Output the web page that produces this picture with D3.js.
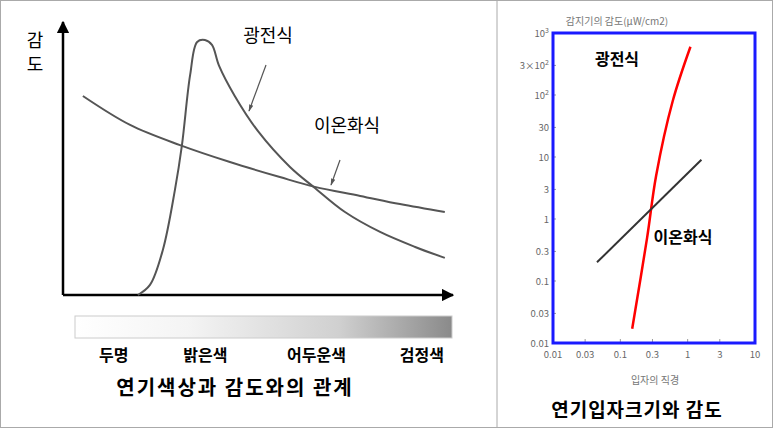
<!DOCTYPE html><html><head><meta charset="utf-8"><script src="https://cdn.jsdelivr.net/npm/d3@7"></script>
<style>body{margin:0;background:#fff}text{font-family:"Noto Sans CJK KR",sans-serif}</style></head><body>
<svg id="c" width="773" height="428"></svg>
<script>
const photoX=[1.92,2.23,2.56,2.87,3.05,3.26,3.44,3.64,3.82,4.0,4.4,5.0,5.82,6.46,7.23,8.13,9.03,9.79];
const photoY=[0,0.37,1.65,3.85,5.49,8.06,9.27,9.34,9.16,8.4,7.3,6.0,4.69,3.92,3.04,2.31,1.76,1.36];
const ionX=[0.51,1.72,3.0,4.28,5.56,6.46,7.62,8.64,9.79];
const ionY=[7.29,6.23,5.49,4.87,4.32,3.96,3.63,3.33,3.04];
const colorLabels=["두명","밝은색","어두운색","검정색"];
const colorPos=[1.3,3.65,6.5,9.2];
const redX=[0.15,0.25,0.34,0.6,1.1];
const redY=[0.017,0.5,5,80,600];
const blackX=[0.045,1.6];
const blackY=[0.2,9];
const yTicks=[0.01,0.03,0.1,0.3,1,3,10,30,100,300,1000];
const yTickLabels=["0.01","0.03","0.1","0.3","1","3","10","30","10|2","3×10|2","10|3"];
const xTicks=[0.01,0.03,0.1,0.3,1,3,10];
const xTickLabels=["0.01","0.03","0.1","0.3","1","3","10"];

const svg=d3.select("#c");
svg.append("rect").attr("x",0.5).attr("y",0.5).attr("width",772).attr("height",427).attr("fill","none").attr("stroke","#aaa");
svg.append("line").attr("x1",497).attr("x2",497).attr("y1",0).attr("y2",428).attr("stroke","#aaa");
const x=d3.scaleLinear().domain([0,10]).range([63,453]);
const y=d3.scaleLinear().domain([0,10]).range([295,22]);
const g=svg.append("g");
const defs=svg.append("defs");
defs.append("marker").attr("id","ah").attr("viewBox","0 0 10 10").attr("refX",9).attr("refY",5).attr("markerWidth",5).attr("markerHeight",5).attr("orient","auto-start-reverse").append("path").attr("d","M0,0L10,5L0,10z").attr("fill","#000");
g.append("line").attr("x1",x(0)).attr("x2",x(0)).attr("y1",y(0)).attr("y2",y(10)).attr("stroke","#000").attr("stroke-width",2.5).attr("marker-end","url(#ah)");
g.append("line").attr("x1",x(0)).attr("x2",x(10)).attr("y1",y(0)).attr("y2",y(0)).attr("stroke","#000").attr("stroke-width",2.5).attr("marker-end","url(#ah)");
const ln=d3.line().x(d=>x(d[0])).y(d=>y(d[1])).curve(d3.curveCatmullRom.alpha(0.5));
g.append("path").attr("d",ln(photoX.map((v,i)=>[v,photoY[i]]))).attr("fill","none").attr("stroke","#555").attr("stroke-width",2);
g.append("path").attr("d",ln(ionX.map((v,i)=>[v,ionY[i]]))).attr("fill","none").attr("stroke","#555").attr("stroke-width",2);
g.append("text").attr("x",35).attr("y",47).attr("text-anchor","middle").attr("font-size",18).text("감");
g.append("text").attr("x",35).attr("y",71).attr("text-anchor","middle").attr("font-size",18).text("도");
g.append("text").attr("x",268).attr("y",42).attr("text-anchor","middle").attr("font-size",18).text("광전식");
g.append("text").attr("x",347).attr("y",132).attr("text-anchor","middle").attr("font-size",18).text("이온화식");
defs.append("marker").attr("id","ah2").attr("viewBox","0 0 10 10").attr("refX",9).attr("refY",5).attr("markerWidth",6).attr("markerHeight",6).attr("orient","auto").append("path").attr("d","M0,2L10,5L0,8z").attr("fill","#555");
g.append("line").attr("x1",266).attr("y1",65).attr("x2",249).attr("y2",111).attr("stroke","#555").attr("stroke-width",1.2).attr("marker-end","url(#ah2)");
g.append("line").attr("x1",340).attr("y1",160).attr("x2",331).attr("y2",185).attr("stroke","#555").attr("stroke-width",1.2).attr("marker-end","url(#ah2)");
const gr=defs.append("linearGradient").attr("id","gr");
gr.append("stop").attr("offset","0").attr("stop-color","#fff");
gr.append("stop").attr("offset","0.3").attr("stop-color","#f4f4f4");
gr.append("stop").attr("offset","0.7").attr("stop-color","#d0d0d0");
gr.append("stop").attr("offset","1").attr("stop-color","#8a8a8a");
g.append("rect").attr("x",75).attr("y",316).attr("width",377).attr("height",22).attr("fill","url(#gr)").attr("stroke","#ccc");
g.selectAll(".cl").data(colorLabels).join("text").attr("x",(d,i)=>x(colorPos[i])).attr("y",361).attr("text-anchor","middle").attr("font-size",16).attr("font-weight","bold").text(d=>d);
g.append("text").attr("x",235).attr("y",395).attr("text-anchor","middle").attr("font-size",20).attr("font-weight","bold").attr("letter-spacing",2).text("연기색상과 감도와의 관계");
const rx=d3.scaleLog().domain([0.01,10]).range([553,755]);
const ry=d3.scaleLog().domain([0.01,1000]).range([343,33]);
const r=svg.append("g");
r.selectAll(".yt").data(yTicks).join("text").attr("x",549).attr("y",d=>ry(d)+4).attr("text-anchor","end").attr("font-size",9.5).attr("fill","#666")
 .each(function(d,i){const p=yTickLabels[i].split("|");const t=d3.select(this);t.append("tspan").text(p[0]);if(p[1])t.append("tspan").attr("dy",-4).attr("font-size",7).text(p[1]);});
r.selectAll(".ytk").data(yTicks).join("line").attr("x1",553).attr("x2",556).attr("y1",d=>ry(d)).attr("y2",d=>ry(d)).attr("stroke","#999");
r.selectAll(".xt").data(xTicks).join("text").attr("x",d=>rx(d)).attr("y",358).attr("text-anchor","middle").attr("font-size",9.5).attr("fill","#666").text((d,i)=>xTickLabels[i]);
r.selectAll(".xtk").data(xTicks).join("line").attr("x1",d=>rx(d)).attr("x2",d=>rx(d)).attr("y1",343).attr("y2",339).attr("stroke","#999");
r.append("rect").attr("x",553).attr("y",33).attr("width",202).attr("height",310).attr("fill","none").attr("stroke","#1a1aff").attr("stroke-width",3);
const rl=d3.line().x(d=>rx(d[0])).y(d=>ry(d[1])).curve(d3.curveCatmullRom.alpha(0.5));
r.append("path").attr("d",rl(redX.map((v,i)=>[v,redY[i]]))).attr("fill","none").attr("stroke","#ff0000").attr("stroke-width",2.5);
r.append("path").attr("d",rl(blackX.map((v,i)=>[v,blackY[i]]))).attr("fill","none").attr("stroke","#333").attr("stroke-width",2);
r.append("text").attr("x",617).attr("y",65).attr("text-anchor","middle").attr("font-size",16).attr("font-weight","bold").text("광전식");
r.append("text").attr("x",683).attr("y",243).attr("text-anchor","middle").attr("font-size",16).attr("font-weight","bold").text("이온화식");
r.append("text").attr("x",617).attr("y",25).attr("text-anchor","middle").attr("font-size",10).attr("fill","#777").text("감지기의 감도(μW/cm2)");
r.append("text").attr("x",655).attr("y",384).attr("text-anchor","middle").attr("font-size",10).attr("fill","#777").text("입자의 직경");
r.append("text").attr("x",637).attr("y",417).attr("text-anchor","middle").attr("font-size",19).attr("font-weight","bold").attr("letter-spacing",1).text("연기입자크기와 감도");
</script></body></html>
